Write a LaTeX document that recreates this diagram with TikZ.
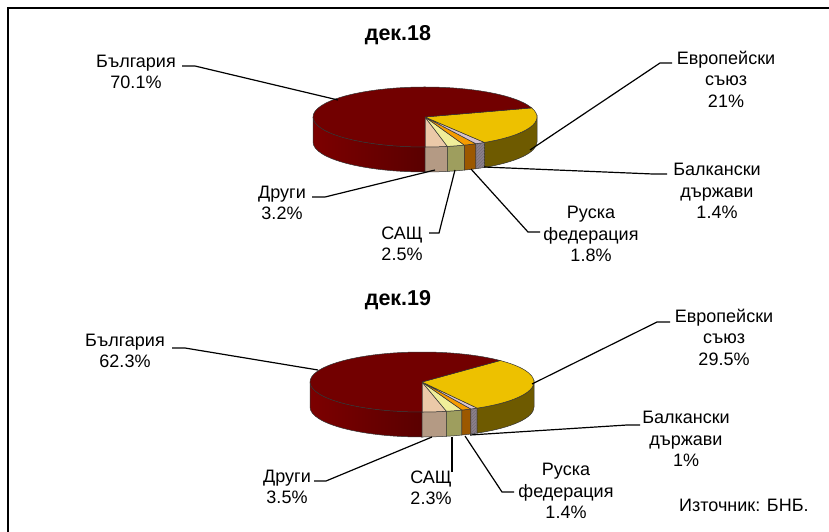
\documentclass[tikz,border=0pt]{standalone}
\usepackage{fontspec}
\setmainfont{Liberation Sans}
\usetikzlibrary{patterns}

\definecolor{bgtop}{HTML}{720000}
\definecolor{bgsideL}{HTML}{7C0000}
\definecolor{bgsideR}{HTML}{5A0000}
\definecolor{eutop}{HTML}{EDC100}
\definecolor{euside}{HTML}{6E5A00}
\definecolor{bktop}{HTML}{D6C2CE}
\definecolor{bkside}{HTML}{8E7E8E}
\definecolor{rutop}{HTML}{F59B00}
\definecolor{ruside}{HTML}{9C5800}
\definecolor{ustop}{HTML}{F0EE9A}
\definecolor{usside}{HTML}{9E9E5E}
\definecolor{ottop}{HTML}{EBC9A8}
\definecolor{otside}{HTML}{B49A84}

\begin{document}
\begin{tikzpicture}[x=1pt, y=1pt,
    lbl/.style={align=center, inner sep=0pt, font=\fontsize{18}{21.5}\selectfont},
    ttl/.style={inner sep=0pt, font=\fontsize{21.5}{24}\selectfont\bfseries},
    leader/.style={line width=1.2pt},
    edge/.style={draw=black!80, line width=0.5pt}]
  \useasboundingbox (0,0) rectangle (829,-532);
  \draw[line width=2.4pt] (8,-540) -- (8,-8) -- (840,-8);

  \coordinate (c18) at (425,-117);
  \coordinate (c19) at (422,-382);

  % sides
  \foreach \c in {c18,c19}{
    \shadedraw[left color=bgsideL, right color=bgsideR, edge] (\c) ++(-180:112 and 30)
      arc[start angle=-180, end angle=-90, x radius=112, y radius=30] -- ++(0,-25)
      arc[start angle=-90, end angle=-180, x radius=112, y radius=30] -- cycle;
  }
  \foreach \a/\b/\col in {-90/-78.48/otside, -78.48/-69.48/usside, -69.48/-63/ruside, -63/-57.96/bkside, -57.96/0/euside}{
    \filldraw[fill=\col, edge] (c18) ++(\a:112 and 30)
      arc[start angle=\a, end angle=\b, x radius=112, y radius=30] -- ++(0,-25)
      arc[start angle=\b, end angle=\a, x radius=112, y radius=30] -- cycle;
  }
  \fill[pattern=north east lines, pattern color=black!55] (c18) ++(-63:112 and 30)
    arc[start angle=-63, end angle=-57.96, x radius=112, y radius=30] -- ++(0,-25)
    arc[start angle=-57.96, end angle=-63, x radius=112, y radius=30] -- cycle;
  \foreach \a/\b/\col in {-90/-77.4/otside, -77.4/-69.12/usside, -69.12/-64.08/ruside, -64.08/-60.48/bkside, -60.48/0/euside}{
    \filldraw[fill=\col, edge] (c19) ++(\a:112 and 30)
      arc[start angle=\a, end angle=\b, x radius=112, y radius=30] -- ++(0,-25)
      arc[start angle=\b, end angle=\a, x radius=112, y radius=30] -- cycle;
  }
  \fill[pattern=north east lines, pattern color=black!55] (c19) ++(-64.08:112 and 30)
    arc[start angle=-64.08, end angle=-60.48, x radius=112, y radius=30] -- ++(0,-25)
    arc[start angle=-60.48, end angle=-64.08, x radius=112, y radius=30] -- cycle;

  % tops
  \foreach \a/\b/\col in {-90/-78.48/ottop, -78.48/-69.48/ustop, -69.48/-63/rutop, -63/-57.96/bktop, -57.96/17.64/eutop, 17.64/270/bgtop}{
    \filldraw[fill=\col, edge] (c18) -- ++(\a:112 and 30)
      arc[start angle=\a, end angle=\b, x radius=112, y radius=30] -- cycle;
  }
  \foreach \a/\b/\col in {-90/-77.4/ottop, -77.4/-69.12/ustop, -69.12/-64.08/rutop, -64.08/-60.48/bktop, -60.48/45.72/eutop, 45.72/270/bgtop}{
    \filldraw[fill=\col, edge] (c19) -- ++(\a:112 and 30)
      arc[start angle=\a, end angle=\b, x radius=112, y radius=30] -- cycle;
  }

  % labels dec.18
  \node[ttl] (t18) at (398,-35) {дек.18};
  \node[lbl] (bg18) at (136,-72) {България\\70.1\%};
  \node[lbl] (eu18) at (726,-79) {Европейски\\съюз\\21\%};
  \node[lbl] (bk18) at (717,-191) {Балкански\\държави\\1.4\%};
  \node[lbl] (ru18) at (591,-234) {Руска\\федерация\\1.8\%};
  \node[lbl] (us18) at (402,-244) {САЩ\\2.5\%};
  \node[lbl] (ot18) at (282,-203) {Други\\3.2\%};

  \coordinate (bg18a) at (182,-66);  \coordinate (bg18b) at (195,-66);  \coordinate (bg18p) at (338,-100);
  \coordinate (eu18a) at (672,-63);  \coordinate (eu18b) at (660,-63);  \coordinate (eu18p) at (530,-150);
  \coordinate (bk18a) at (667,-174); \coordinate (bk18b) at (653,-174); \coordinate (bk18p) at (484,-167);
  \coordinate (ru18a) at (540,-232); \coordinate (ru18b) at (528,-232); \coordinate (ru18p) at (471,-169);
  \coordinate (us18a) at (429,-233); \coordinate (us18b) at (439,-233); \coordinate (us18p) at (455,-170);
  \coordinate (ot18a) at (312,-197); \coordinate (ot18b) at (325,-197); \coordinate (ot18p) at (435,-170);
  \foreach \n in {bg18,eu18,bk18,ru18,us18,ot18}
    \draw[leader] (\n a) -- (\n b) -- (\n p);

  % labels dec.19
  \node[ttl] (t19) at (398,-300) {дек.19};
  \node[lbl] (bg19) at (125,-351) {България\\62.3\%};
  \node[lbl] (eu19) at (724,-337) {Европейски\\съюз\\29.5\%};
  \node[lbl] (bk19) at (686,-439) {Балкански\\държави\\1\%};
  \node[lbl] (ru19) at (566,-491) {Руска\\федерация\\1.4\%};
  \node[lbl] (us19) at (431,-488) {САЩ\\2.3\%};
  \node[lbl] (ot19) at (287,-487) {Други\\3.5\%};
  \node[lbl, anchor=west] (src) at (679,-505) {Източник: БНБ.};

  \coordinate (bg19a) at (172,-348); \coordinate (bg19b) at (185,-348); \coordinate (bg19p) at (318,-370);
  \coordinate (eu19a) at (670,-322); \coordinate (eu19b) at (657,-322); \coordinate (eu19p) at (532,-384);
  \coordinate (bk19a) at (640,-425); \coordinate (bk19b) at (627,-425); \coordinate (bk19p) at (470,-435);
  \coordinate (ru19a) at (514,-492); \coordinate (ru19b) at (502,-492); \coordinate (ru19p) at (465,-436);
  \coordinate (us19a) at (452,-472); \coordinate (us19b) at (452,-466); \coordinate (us19p) at (452,-437);
  \coordinate (ot19a) at (314,-481); \coordinate (ot19b) at (326,-481); \coordinate (ot19p) at (432,-437);
  \foreach \n in {bg19,eu19,bk19,ru19,us19,ot19}
    \draw[leader] (\n a) -- (\n b) -- (\n p);
\end{tikzpicture}
\end{document}
